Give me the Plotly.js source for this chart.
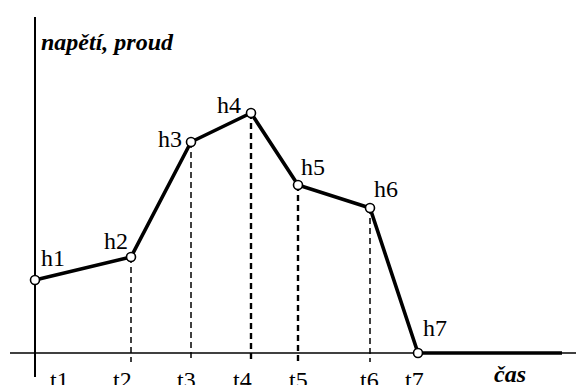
<!DOCTYPE html>
<html>
<head>
<meta charset="utf-8">
<script src="https://cdn.plot.ly/plotly-3.0.1.min.js"></script>
<style>
  html, body { margin: 0; padding: 0; background: #fff; }
  #chart { width: 576px; height: 385px; }
</style>
</head>
<body>
<div id="chart"></div>
<script>
// Breakpoints of the waveform: time positions and levels
const timeLabels = ['t1', 't2', 't3', 't4', 't5', 't6', 't7'];
const levelLabels = ['h1', 'h2', 'h3', 'h4', 'h5', 'h6', 'h7'];
const times = [0, 9.6, 15.6, 21.6, 26.3, 33.5, 38.3];
const levels = [7.3, 9.6, 21.1, 24.0, 16.8, 14.5, 0];
const tEnd = 52.7;          // the level stays at zero after t7 up to here

const axisTitleY = 'napětí, proud';
const axisTitleX = 'čas';

const serif = 'Liberation Serif, Times New Roman, serif';
const black = '#000';

// label offsets (px) of the h-labels relative to their points
const hShift = [[18, 22], [-15, 16], [-21, 3], [-22, 8], [15, 18], [16, 19], [17, 25]];
// horizontal offsets (px) of the t-labels relative to their times
const tShift = [24, -9, -5, -9, 0, -1, -4];

const lineX = times.concat([tEnd]);
const lineY = levels.concat([0]);

const traces = [
  {
    x: lineX, y: lineY, mode: 'lines',
    line: { color: black, width: 3.6 },
    hoverinfo: 'skip', showlegend: false
  },
  {
    x: times, y: levels, mode: 'markers',
    marker: { symbol: 'circle', size: 9, color: '#fff', line: { color: black, width: 1.6 } },
    hoverinfo: 'skip', showlegend: false
  }
];

const shapes = [
  // time axis
  { type: 'line', xref: 'x', yref: 'y', x0: -2.5, x1: 54.1, y0: 0, y1: 0,
    line: { color: black, width: 1.6 }, layer: 'below' },
  // value axis
  { type: 'line', xref: 'x', yref: 'y', x0: 0, x1: 0, y0: -2.4, y1: 33.6,
    line: { color: black, width: 2 }, layer: 'below' }
];

// dashed drop lines from the inner breakpoints
for (let i = 1; i < times.length - 1; i++) {
  const bold = (i === 3 || i === 4);
  shapes.push({
    type: 'line', xref: 'x', yref: 'y',
    x0: times[i], x1: times[i], y0: levels[i], y1: -0.9,
    line: { color: black, width: bold ? 2.4 : 1.5, dash: '6px,4px' },
    layer: 'below'
  });
}

const annotations = [];
levelLabels.forEach((txt, i) => {
  annotations.push({
    xref: 'x', yref: 'y', x: times[i], y: levels[i],
    text: txt, showarrow: false,
    xanchor: 'center', yanchor: 'middle',
    xshift: hShift[i][0], yshift: hShift[i][1],
    font: { family: serif, size: 24, color: black }
  });
});
timeLabels.forEach((txt, i) => {
  annotations.push({
    xref: 'x', yref: 'y', x: times[i], y: 0,
    text: txt, showarrow: false,
    xanchor: 'center', yanchor: 'top',
    xshift: tShift[i], yshift: -12,
    font: { family: serif, size: 24, color: black }
  });
});
annotations.push({
  xref: 'x', yref: 'y', x: 0, y: 33.6,
  text: '<b><i>' + axisTitleY + '</i></b>', showarrow: false,
  xanchor: 'left', yanchor: 'top', xshift: 4, yshift: -10,
  font: { family: serif, size: 24, color: black }
});
annotations.push({
  xref: 'x', yref: 'y', x: 47.5, y: 0,
  text: '<b><i>' + axisTitleX + '</i></b>', showarrow: false,
  xanchor: 'center', yanchor: 'top', yshift: -6,
  font: { family: serif, size: 24, color: black }
});

const layout = {
  width: 576, height: 385,
  margin: { l: 0, r: 0, t: 0, b: 0, pad: 0 },
  paper_bgcolor: '#fff', plot_bgcolor: '#fff',
  showlegend: false,
  xaxis: { range: [-3.5, 54.1], visible: false, fixedrange: true },
  yaxis: { range: [-3.2, 35.3], visible: false, fixedrange: true },
  shapes: shapes,
  annotations: annotations
};

Plotly.newPlot('chart', traces, layout, { staticPlot: true, displayModeBar: false });
</script>
</body>
</html>
